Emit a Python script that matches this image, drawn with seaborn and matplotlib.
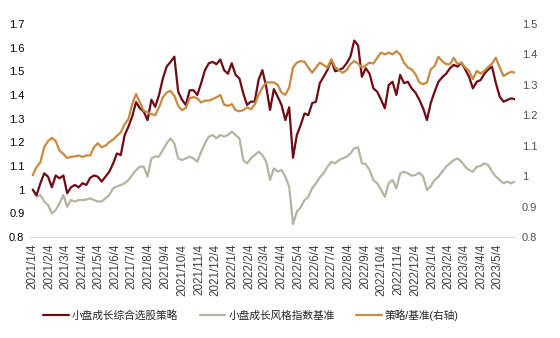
import numpy as np
import pandas as pd
import matplotlib
matplotlib.use("Agg")
import matplotlib.pyplot as plt
import seaborn as sns

# ---- data (weekly samples) ----
start_date = "2021-01-04"

strategy = [
    1.00, 0.977, 1.027, 1.069, 1.055, 1.01, 1.06, 1.048, 1.06, 0.985,
    1.01, 1.02, 1.01, 1.027, 1.02, 1.05, 1.06, 1.055, 1.034, 1.055,
    1.076, 1.11, 1.153, 1.146, 1.23, 1.266, 1.31, 1.37, 1.344, 1.33,
    1.294, 1.38, 1.35, 1.40, 1.47, 1.52, 1.54, 1.562, 1.414, 1.38,
    1.358, 1.42, 1.42, 1.40, 1.45, 1.505, 1.534, 1.54, 1.53, 1.55,
    1.505, 1.49, 1.534, 1.485, 1.47, 1.407, 1.358, 1.372, 1.372, 1.464,
    1.505, 1.435, 1.337, 1.425, 1.393, 1.358, 1.294, 1.348, 1.135, 1.231,
    1.273, 1.322, 1.315, 1.365, 1.372, 1.45, 1.477, 1.506, 1.548, 1.50,
    1.506, 1.513, 1.534, 1.562, 1.63, 1.61, 1.477, 1.513, 1.49, 1.428,
    1.414, 1.38, 1.344, 1.442, 1.456, 1.40, 1.485, 1.45, 1.456, 1.428,
    1.41, 1.38, 1.344, 1.294, 1.367, 1.414, 1.456, 1.475, 1.49, 1.513,
    1.527, 1.52, 1.537, 1.508, 1.477, 1.428, 1.456, 1.463, 1.49, 1.508,
    1.52, 1.45, 1.393, 1.372, 1.379, 1.386, 1.382,
]

benchmark = [
    1.00, 0.97, 0.977, 0.95, 0.935, 0.90, 0.914, 0.942, 0.977, 0.928,
    0.956, 0.95, 0.956, 0.956, 0.958, 0.963, 0.956, 0.95, 0.95, 0.963,
    0.977, 1.006, 1.013, 1.02, 1.027, 1.04, 1.062, 1.083, 1.097, 1.097,
    1.055, 1.132, 1.14, 1.14, 1.168, 1.196, 1.217, 1.196, 1.132, 1.125,
    1.132, 1.14, 1.132, 1.118, 1.16, 1.196, 1.224, 1.231, 1.217, 1.231,
    1.224, 1.231, 1.245, 1.231, 1.217, 1.125, 1.111, 1.132, 1.146, 1.16,
    1.146, 1.118, 1.041, 1.09, 1.076, 1.083, 1.055, 1.013, 0.855, 0.907,
    0.925, 0.956, 0.97, 1.006, 1.027, 1.052, 1.07, 1.097, 1.118, 1.111,
    1.125, 1.132, 1.139, 1.153, 1.175, 1.179, 1.111, 1.108, 1.083, 1.041,
    1.027, 0.999, 0.97, 1.027, 1.041, 1.006, 1.069, 1.076, 1.069, 1.059,
    1.062, 1.072, 1.055, 0.999, 1.015, 1.041, 1.055, 1.076, 1.097, 1.111,
    1.125, 1.132, 1.118, 1.097, 1.083, 1.076, 1.097, 1.10, 1.111, 1.104,
    1.076, 1.055, 1.041, 1.027, 1.034, 1.027, 1.034,
]

ratio = [
    1.003, 1.03, 1.046, 1.095, 1.115, 1.126, 1.115, 1.084, 1.073, 1.06,
    1.063, 1.065, 1.068, 1.063, 1.068, 1.068, 1.095, 1.108, 1.095, 1.10,
    1.112, 1.12, 1.133, 1.144, 1.17, 1.188, 1.237, 1.27, 1.242, 1.215,
    1.21, 1.204, 1.20, 1.226, 1.259, 1.275, 1.28, 1.264, 1.231, 1.217,
    1.224, 1.256, 1.26, 1.256, 1.242, 1.248, 1.248, 1.253, 1.259, 1.267,
    1.235, 1.231, 1.237, 1.217, 1.213, 1.217, 1.226, 1.22, 1.235, 1.267,
    1.291, 1.308, 1.308, 1.308, 1.30, 1.275, 1.267, 1.291, 1.357, 1.373,
    1.378, 1.376, 1.357, 1.34, 1.357, 1.373, 1.365, 1.357, 1.384, 1.359,
    1.348, 1.34, 1.348, 1.368, 1.378, 1.37, 1.357, 1.364, 1.373, 1.37,
    1.389, 1.406, 1.40, 1.406, 1.40, 1.411, 1.40, 1.373, 1.357, 1.351,
    1.335, 1.308, 1.302, 1.308, 1.351, 1.362, 1.392, 1.378, 1.368, 1.368,
    1.389, 1.368, 1.373, 1.357, 1.346, 1.319, 1.346, 1.337, 1.346, 1.359,
    1.37, 1.389, 1.357, 1.329, 1.337, 1.343, 1.34,
]

tick_labels = [
    "2021/1/4", "2021/2/4", "2021/3/4", "2021/4/4", "2021/5/4", "2021/6/4",
    "2021/7/4", "2021/8/4", "2021/9/4", "2021/10/4", "2021/11/4", "2021/12/4",
    "2022/1/4", "2022/2/4", "2022/3/4", "2022/4/4", "2022/5/4", "2022/6/4",
    "2022/7/4", "2022/8/4", "2022/9/4", "2022/10/4", "2022/11/4", "2022/12/4",
    "2023/1/4", "2023/2/4", "2023/3/4", "2023/4/4", "2023/5/4",
]
left_ticks = [0.8, 0.9, 1.0, 1.1, 1.2, 1.3, 1.4, 1.5, 1.6, 1.7]
right_ticks = [0.8, 0.9, 1.0, 1.1, 1.2, 1.3, 1.4, 1.5]
series_names = ["小盘成长综合选股策略", "小盘成长风格指数基准", "策略/基准(右轴)"]

# ---- style ----
sns.set_theme(style="white")
plt.rcParams["font.family"] = ["Liberation Sans", "Noto Sans CJK SC", "DejaVu Sans"]

c_strat = "#6E0B14"
c_bench = "#B5B4A2"
c_ratio = "#C88A40"

dates = pd.date_range(start_date, periods=len(strategy), freq="7D")
df = pd.DataFrame({"date": dates, "strategy": strategy,
                   "benchmark": benchmark, "ratio": ratio})

fig = plt.figure(figsize=(5.6, 3.38), dpi=100)
ax = fig.add_axes([30 / 560, 1 - 237 / 338, 485 / 560, 213 / 338])
ax2 = ax.twinx()

sns.lineplot(data=df, x="date", y="benchmark", ax=ax, color=c_bench,
             linewidth=1.6, label=series_names[1], legend=False)
sns.lineplot(data=df, x="date", y="strategy", ax=ax, color=c_strat,
             linewidth=1.6, label=series_names[0], legend=False)
sns.lineplot(data=df, x="date", y="ratio", ax=ax2, color=c_ratio,
             linewidth=1.6, label=series_names[2], legend=False)

tick_dates = pd.to_datetime(tick_labels, format="%Y/%m/%d")
ax.set_xlim(pd.Timestamp("2020-12-30"), pd.Timestamp("2023-06-05"))
ax.set_xticks(tick_dates)
ax.set_xticklabels(tick_labels, rotation=90, fontsize=8.4, color="#404040")

ax.set_ylim(0.8, 1.7)
ax.set_yticks(left_ticks)
ax.set_yticklabels([f"{v:g}" for v in left_ticks], fontsize=8, color="#000000")
ax2.set_ylim(0.8, 1.5)
ax2.set_yticks(right_ticks)
ax2.set_yticklabels([f"{v:g}" for v in right_ticks], fontsize=8, color="#505050")

ax.set_xlabel("")
ax.set_ylabel("")
ax2.set_ylabel("")

for a in (ax, ax2):
    for s in ("top", "left", "right", "bottom"):
        a.spines[s].set_visible(False)
ax.spines["bottom"].set_visible(True)
ax.spines["bottom"].set_color("#d9d9d9")
ax.spines["bottom"].set_linewidth(0.8)

ax.tick_params(axis="x", direction="out", length=3, width=0.8, color="#d9d9d9", pad=2)
ax.tick_params(axis="y", length=0, pad=4)
ax2.tick_params(axis="y", length=0, pad=5)
ax.grid(False)
ax2.grid(False)

h1, l1 = ax.get_legend_handles_labels()
h2, l2 = ax2.get_legend_handles_labels()
handles = {l: h for h, l in zip(h1 + h2, l1 + l2)}
fig.legend([handles[n] for n in series_names], series_names,
           loc="center", bbox_to_anchor=(0.448, 0.068), ncol=3, frameon=False,
           fontsize=7.7, handlelength=2.4, handletextpad=0.3, columnspacing=2.0)

fig.savefig("out.png", dpi=100)
